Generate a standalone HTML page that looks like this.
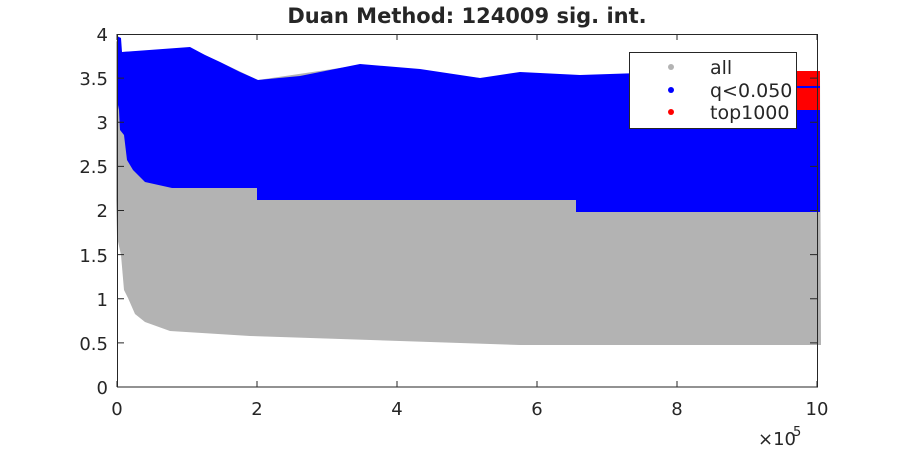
<!DOCTYPE html>
<html><head><style>body{margin:0;background:#fff}svg{display:block}text{font-family:"DejaVu Sans","Liberation Sans",sans-serif;fill:#262626}</style></head><body>
<svg width="900" height="450" viewBox="0 0 900 450">
<rect width="900" height="450" fill="#fff"/>
<polygon fill="#b3b3b3" points="116,40 122,52 190,48 220,62 258,80 360,65 480,78 820,72 821,345 520,345 400,341 250,336 170,331 145,322 135,314 128,298 124,290 121,255 117,237 116,200"/>
<polygon fill="#0000ff" points="117,36 121,38 122,52 190,47 205,55 220,62 240,72 258,80 300,76 360,64 420,69 480,78 520,72 580,75 640,73 820,73 820,212 576,212 576,200 257,200 257,188 172,188 145,182 133,170 127,160 124,135 120,130 119,110 117,100"/>
<rect x="793" y="71" width="27" height="15" fill="#ff0000"/>
<rect x="793" y="88" width="27" height="22" fill="#ff0000"/>
<g stroke="#262626" fill="none" stroke-width="1">
<rect x="117.5" y="34.5" width="700" height="352.5"/>
<path d="M117 381v6M257 381v6M397 381v6M537 381v6M677 381v6M817 381v6M117 34v6M257 34v6M397 34v6M537 34v6M677 34v6M817 34v6M117 342.9h7M117 298.8h7M117 254.6h7M117 210.5h7M117 166.4h7M117 122.3h7M117 78.1h7M810 342.9h7M810 298.8h7M810 254.6h7M810 210.5h7M810 166.4h7M810 122.3h7M810 78.1h7"/>
</g>
<g font-size="18" text-anchor="end">
<text x="108" y="394">0</text><text x="108" y="350">0.5</text><text x="108" y="306">1</text><text x="108" y="262">1.5</text><text x="108" y="217">2</text><text x="108" y="173">2.5</text><text x="108" y="129">3</text><text x="108" y="85">3.5</text><text x="108" y="41">4</text>
</g>
<g font-size="18" text-anchor="middle">
<text x="117" y="415">0</text><text x="257" y="415">2</text><text x="397" y="415">4</text><text x="537" y="415">6</text><text x="677" y="415">8</text><text x="817" y="415">10</text>
</g>
<text x="758" y="445" font-size="18">×10</text><text x="793" y="436" font-size="13">5</text>
<text x="467" y="23" font-size="21" font-weight="bold" text-anchor="middle" fill="#000">Duan Method: 124009 sig. int.</text>
<rect x="629.5" y="52.5" width="167" height="76" fill="#fff" stroke="#262626"/>
<circle cx="671" cy="67" r="3" fill="#b3b3b3"/><circle cx="671" cy="90" r="3" fill="#0000ff"/><circle cx="671" cy="112" r="3" fill="#ff0000"/>
<g font-size="19"><text x="710" y="74" fill="#000">all</text><text x="710" y="97" fill="#000">q&lt;0.050</text><text x="710" y="119" fill="#000">top1000</text></g>
</svg>
</body></html>
